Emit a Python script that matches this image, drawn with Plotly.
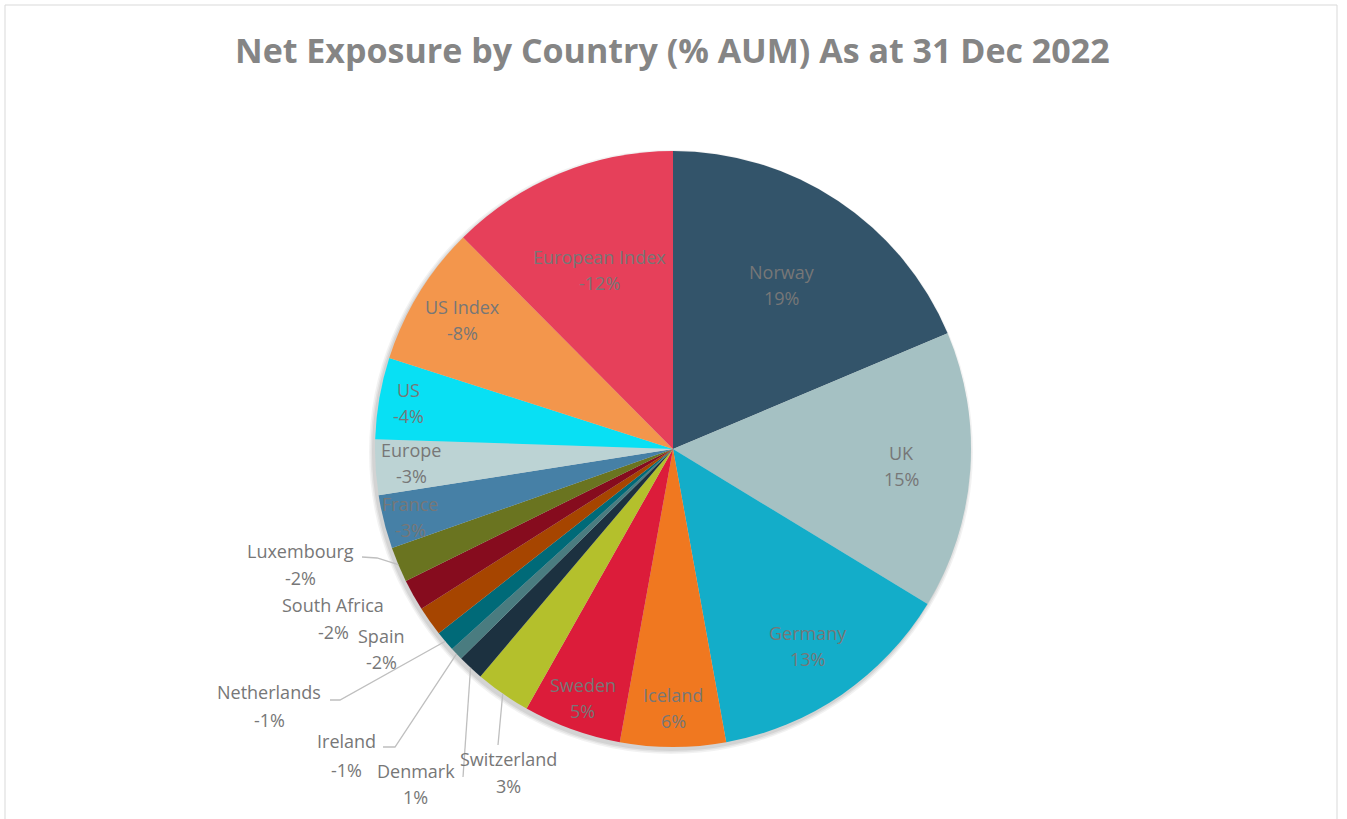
import math
import plotly.graph_objects as go

# ---- data ----
countries = ["Norway", "UK", "Germany", "Iceland", "Sweden", "Switzerland", "Denmark",
             "Ireland", "Netherlands", "Spain", "South Africa", "Luxembourg", "France",
             "Europe", "US", "US Index", "European Index"]
exposure = [18.6, 15.0, 13.4, 5.7, 5.3, 3.0, 1.4,
            -0.7, -1.1, -1.6, -1.7, -1.9, -2.9,
            -3.0, -4.4, -7.6, -12.4]
title_text = "Net Exposure by Country (% AUM) As at 31 Dec 2022"

# ---- style ----
colors = ["#33546a", "#a5c1c3", "#13adc9", "#f07820", "#dc1c3a", "#b4c02c", "#1c3140",
          "#4a7c80", "#006a78", "#a64500", "#860c1e", "#6a7420", "#4680a6",
          "#bcd3d4", "#08e0f4", "#f3964c", "#e6405a"]
W, H = 1347, 819
CX, CY, R = 673, 449, 298
TXT = "#777777"
FONT = "Open Sans"
FS = 18
HALF = 13
inside_frac = {"Norway": .66, "UK": .77, "Germany": .80, "Iceland": .87, "Sweden": .89,
               "France": .91, "Europe": .88, "US": .90, "US Index": .83, "European Index": .65}
inside_nudge = {"Europe": -2, "France": 2}
outside_pos = {"Luxembourg": (300, 551, 578), "South Africa": (333, 605, 632),
               "Spain": (381, 636, 662), "Netherlands": (269, 692, 720),
               "Ireland": (346, 741, 770), "Denmark": (416, 771, 797),
               "Switzerland": (508, 759, 786)}
leader_start = {"Luxembourg": [(362, 557), (377, 558)], "Netherlands": [(330, 700), (340, 700)],
                "Ireland": [(383, 747), (395, 747)], "Denmark": [(463, 777)],
                "Switzerland": [(498, 745)]}


def px(x):
    return x / W


def py(y):
    return 1 - y / H


sizes = [abs(v) for v in exposure]
total = sum(sizes)
labels_pct = [f"{round(v):d}%" for v in exposure]

fig = go.Figure()
fig.add_trace(go.Pie(
    labels=countries, values=sizes, sort=False, direction="clockwise", rotation=0,
    marker=dict(colors=colors, line=dict(width=0)),
    textinfo="none", hoverinfo="label+text", text=labels_pct, showlegend=False,
    domain=dict(x=[px(CX - R), px(CX + R)], y=[py(CY + R), py(CY - R)]),
))

annotations = []
shapes = []

# frame
shapes.append(dict(type="rect", xref="paper", yref="paper", x0=px(5), x1=px(1337),
                   y0=-0.1, y1=py(5), line=dict(color="#d9d9d9", width=1), layer="below"))
# soft shadow
for i, a in enumerate([0.05, 0.06, 0.07]):
    rr = R + 4 - i * 1.5
    ox, oy = -2, 3
    shapes.append(dict(type="circle", xref="paper", yref="paper",
                       x0=px(CX + ox - rr), x1=px(CX + ox + rr),
                       y0=py(CY + oy + rr), y1=py(CY + oy - rr),
                       fillcolor=f"rgba(0,0,0,{a})", line=dict(width=0), layer="below"))

cum = 0.0
for name, s, pct in zip(countries, sizes, labels_pct):
    mid = (cum + s / 2) / total * 2 * math.pi
    cum += s
    sx, sy = math.sin(mid), -math.cos(mid)
    if name in inside_frac:
        f = inside_frac[name]
        lx, ly = CX + f * R * sx, CY + f * R * sy + inside_nudge.get(name, 0)
        for txt, yy in ((name, ly - HALF), (pct, ly + HALF)):
            annotations.append(dict(x=px(lx), y=py(yy), xref="paper", yref="paper",
                                    text=txt, showarrow=False, xanchor="center", yanchor="middle",
                                    font=dict(family=FONT, size=FS, color=TXT)))
    else:
        lx, y1, y2 = outside_pos[name]
        for txt, yy in ((name, y1), (pct, y2)):
            annotations.append(dict(x=px(lx), y=py(yy), xref="paper", yref="paper",
                                    text=txt, showarrow=False, xanchor="center", yanchor="middle",
                                    font=dict(family=FONT, size=FS, color=TXT)))
        if name in leader_start:
            pts = leader_start[name] + [(CX + R * sx, CY + R * sy)]
            path = "M " + " L ".join(f"{px(x):.5f},{py(y):.5f}" for x, y in pts)
            shapes.append(dict(type="path", xref="paper", yref="paper", path=path,
                               line=dict(color="#bfbfbf", width=1.3)))

annotations.append(dict(x=px(672), y=py(50), xref="paper", yref="paper", text=f"<b>{title_text}</b>",
                        showarrow=False, xanchor="center", yanchor="middle",
                        font=dict(family=FONT, size=34, color="#858585")))

fig.update_layout(width=W, height=H, margin=dict(l=0, r=0, t=0, b=0),
                  paper_bgcolor="white", plot_bgcolor="white",
                  annotations=annotations, shapes=shapes)

fig.write_html("out.html")
